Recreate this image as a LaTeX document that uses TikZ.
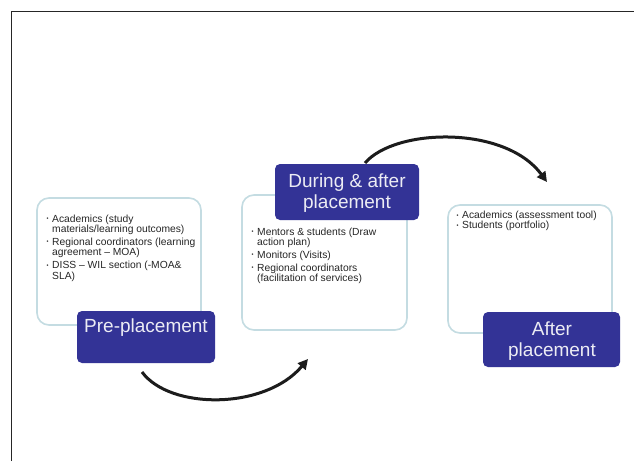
\documentclass[tikz,border=0pt]{standalone}
\usepackage{fontspec}
\setmainfont{Liberation Sans}
\usetikzlibrary{arrows.meta}
\definecolor{darkbox}{RGB}{51,51,150}
\definecolor{lightedge}{RGB}{196,220,226}
\definecolor{titletext}{RGB}{236,236,244}
\definecolor{arrowcol}{RGB}{28,28,28}
\newcommand{\bul}{\makebox[5.5pt][l]{\raisebox{1.6pt}{\scalebox{0.55}{\textbullet}}}}
\newcommand{\ind}{\hspace*{5.5pt}}
\tikzset{
  lightbox/.style={draw=lightedge, line width=1.6pt, fill=white, rounded corners=12pt, inner sep=0pt},
  darkbox/.style={fill=darkbox, rounded corners=5pt, inner sep=0pt},
  titletxt/.style={text=titletext, font=\fontsize{19}{21}\selectfont, align=center, inner sep=0pt},
  bullettxt/.style={text=black!85, font=\fontsize{10.3}{10.3}\selectfont, align=left, inner sep=0pt, anchor=north west},
  flowarrow/.style={draw=arrowcol, line width=3pt, -{Triangle[length=10pt,width=10pt]}}
}
\begin{document}
\begin{tikzpicture}[x=1pt,y=-1pt]
\useasboundingbox (0,0) rectangle (634,461);
\fill[white] (0,0) rectangle (634,461);
% frame
\draw[line width=1.5pt, black!85] (11.5,461) -- (11.5,11.5) -- (634,11.5);

% light boxes
\node[lightbox, minimum width=164pt, minimum height=127pt] (box1) at (119,261.5) {};
\node[lightbox, minimum width=165pt, minimum height=135pt] (box2) at (324.5,262.5) {};
\node[lightbox, minimum width=164pt, minimum height=128pt] (box3) at (530,269) {};

% bullet texts
\node[bullettxt] (txt1) at (46.5,214.5) {\bul Academics (study\\ \ind materials/learning outcomes)\\[2.7pt] \bul Regional coordinators (learning\\ \ind agreement -- MOA)\\[2.7pt] \bul DISS -- WIL section (-MOA\&\\ \ind SLA)};
\node[bullettxt] (txt2) at (251.5,227.5) {\bul Mentors \& students (Draw\\ \ind action plan)\\[2.7pt] \bul Monitors (Visits)\\[2.7pt] \bul Regional coordinators\\ \ind (facilitation of services)};
\node[bullettxt] (txt3) at (456.5,211) {\bul Academics (assessment tool)\\ \bul Students (portfolio)};

% dark title boxes
\node[darkbox, minimum width=138pt, minimum height=52pt] (dark1) at (146,337) {};
\node[titletxt, anchor=base] (title1) at (146,332) {Pre-placement};
\node[darkbox, minimum width=144pt, minimum height=56pt] (dark2) at (347,192) {};
\node[titletxt] (title2) at (347,193) {During \& after\\placement};
\node[darkbox, minimum width=137pt, minimum height=55pt] (dark3) at (551.5,339.5) {};
\node[titletxt] (title3) at (552,341) {After\\placement};

% arrows
\coordinate (a1s) at (142,372);
\coordinate (a1e) at (308,359);
\coordinate (a2s) at (365,163);
\coordinate (a2e) at (547,182);
\draw[flowarrow] (a1s) .. controls (170,410) and (265,410) .. (a1e);
\draw[flowarrow] (a2s) .. controls (395,128) and (505,125) .. (a2e);
\end{tikzpicture}
\end{document}
